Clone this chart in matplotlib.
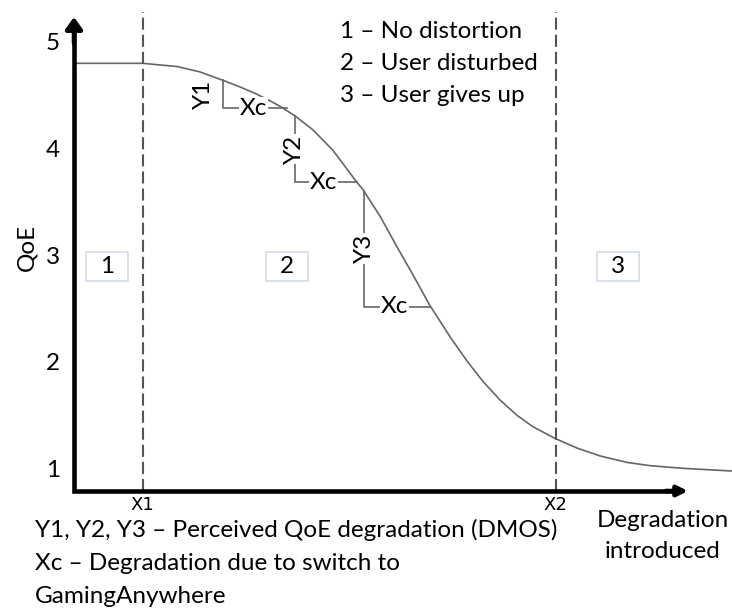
import matplotlib
matplotlib.use("Agg")
import matplotlib.pyplot as plt
from matplotlib.patches import Rectangle

plt.rcParams['font.family'] = ['Lato', 'DejaVu Sans']

# QoE curve (degradation units, QoE)
curve_x = [0.0, 1.0, 1.5, 1.83, 2.17, 2.41, 2.63, 2.82, 2.99, 3.21, 3.47, 3.76, 4.11,
           4.20, 4.45, 4.69, 4.93, 5.17, 5.47, 5.71, 5.94, 6.19, 6.44, 6.67, 6.99,
           7.31, 7.65, 8.04, 8.37, 8.85, 9.56]
curve_y = [4.81, 4.81, 4.78, 4.73, 4.65, 4.59, 4.53, 4.47, 4.41, 4.32, 4.19, 4.00, 3.70,
           3.63, 3.38, 3.10, 2.83, 2.55, 2.25, 2.03, 1.84, 1.665, 1.52, 1.414, 1.305,
           1.215, 1.14, 1.08, 1.05, 1.025, 1.00]

y_ticks = [1, 2, 3, 4, 5]
bounds_x = [1.0, 7.0]
bounds_labels = ["X1", "X2"]

region_labels = ["1", "2", "3"]
region_x = [0.48, 3.10, 7.91]
region_y = 2.91

legend_lines = ["1 \u2013 No distortion", "2 \u2013 User disturbed", "3 \u2013 User gives up"]

# Y1 / Y2 / Y3 brackets: vertical drop then horizontal Xc step
drop_labels = ["Y1", "Y2", "Y3"]
drop_x = [2.17, 3.21, 4.215]
drop_top = [4.65, 4.32, 3.62]
drop_bottom = [4.388, 3.70, 2.533]
step_end = [3.10, 4.11, 5.17]

notes = ["Y1, Y2, Y3 \u2013 Perceived QoE degradation (DMOS)",
         "Xc \u2013 Degradation due to switch to",
         "GamingAnywhere"]

fig = plt.figure(figsize=(7.32, 6.08), dpi=100)
ax = fig.add_axes([0, 0, 1, 1])
ax.set_xlim(-1.0756, 9.564)
ax.set_ylim(-0.2804, 5.4019)
ax.axis("off")

fs = 17.5
gray = "#666666"
x_axis_y = 0.813

# the curve
ax.plot(curve_x, curve_y, color=gray, lw=1.2)

# dashed boundaries
for bx, lab in zip(bounds_x, bounds_labels):
    ax.plot([bx, bx], [x_axis_y, 5.29], color="#555555", lw=1.5, dashes=(5.8, 2.4))
    ax.text(bx, 0.68, lab, ha="center", va="center", fontsize=13,
            family=["Liberation Sans Narrow", "DejaVu Sans"])

# axes with arrows
ax.plot([0, 0, 8.8], [5.1, x_axis_y, x_axis_y], color="black", lw=3.3,
        solid_joinstyle="miter", solid_capstyle="butt")
ax.annotate("", xy=(0, 5.243), xytext=(0, 5.0),
            arrowprops=dict(arrowstyle="-|>,head_length=0.35,head_width=0.25",
                            color="black", lw=3.3, mutation_scale=20,
                            shrinkA=0, shrinkB=0))
ax.annotate("", xy=(8.924, x_axis_y), xytext=(8.6, x_axis_y),
            arrowprops=dict(arrowstyle="-|>,head_length=0.3,head_width=0.15",
                            color="black", lw=3.3, mutation_scale=20,
                            shrinkA=0, shrinkB=0))

for t in y_ticks:
    ax.text(-0.305, t, str(t), ha="center", va="center", fontsize=fs)
ax.text(-0.683, 3.09, "QoE", rotation=90, ha="center", va="center", fontsize=fs)

# region boxes
for lab, rx in zip(region_labels, region_x):
    ax.add_patch(Rectangle((rx - 0.305, region_y - 0.135), 0.61, 0.27,
                           facecolor="white", edgecolor="#d3dbe6", lw=1.2))
    ax.text(rx, region_y, lab, ha="center", va="center", fontsize=fs)

# brackets
for i in range(3):
    x0 = drop_x[i]
    ax.plot([x0, x0, step_end[i]], [drop_top[i], drop_bottom[i], drop_bottom[i]],
            color=gray, lw=1.2)
    xc_mid = (x0 + step_end[i]) / 2 - 0.03
    ax.text(xc_mid, drop_bottom[i], "Xc", ha="center", va="center", fontsize=fs,
            bbox=dict(facecolor="white", edgecolor="none", pad=0.5))
    if i == 0:
        ax.text(x0 - 0.295, (drop_top[i] + drop_bottom[i]) / 2, drop_labels[i],
                rotation=90, ha="center", va="center", fontsize=fs)
    else:
        ax.text(x0, (drop_top[i] + drop_bottom[i]) / 2, drop_labels[i],
                rotation=90, ha="center", va="center", fontsize=fs,
                bbox=dict(facecolor="white", edgecolor="none", pad=0.5))

# legend text
for k, line in enumerate(legend_lines):
    ax.text(3.87, 5.047 - 0.3 * k, line, ha="left", va="baseline", fontsize=fs)

# notes below the axis
for k, line in enumerate(notes):
    ax.text(-0.57, 0.383 - 0.308 * k, line, ha="left", va="baseline", fontsize=fs)

ax.text(8.561, 0.48, "Degradation", ha="center", va="baseline", fontsize=fs)
ax.text(8.561, 0.19, "introduced", ha="center", va="baseline", fontsize=fs)

fig.savefig("out.png", dpi=100)
